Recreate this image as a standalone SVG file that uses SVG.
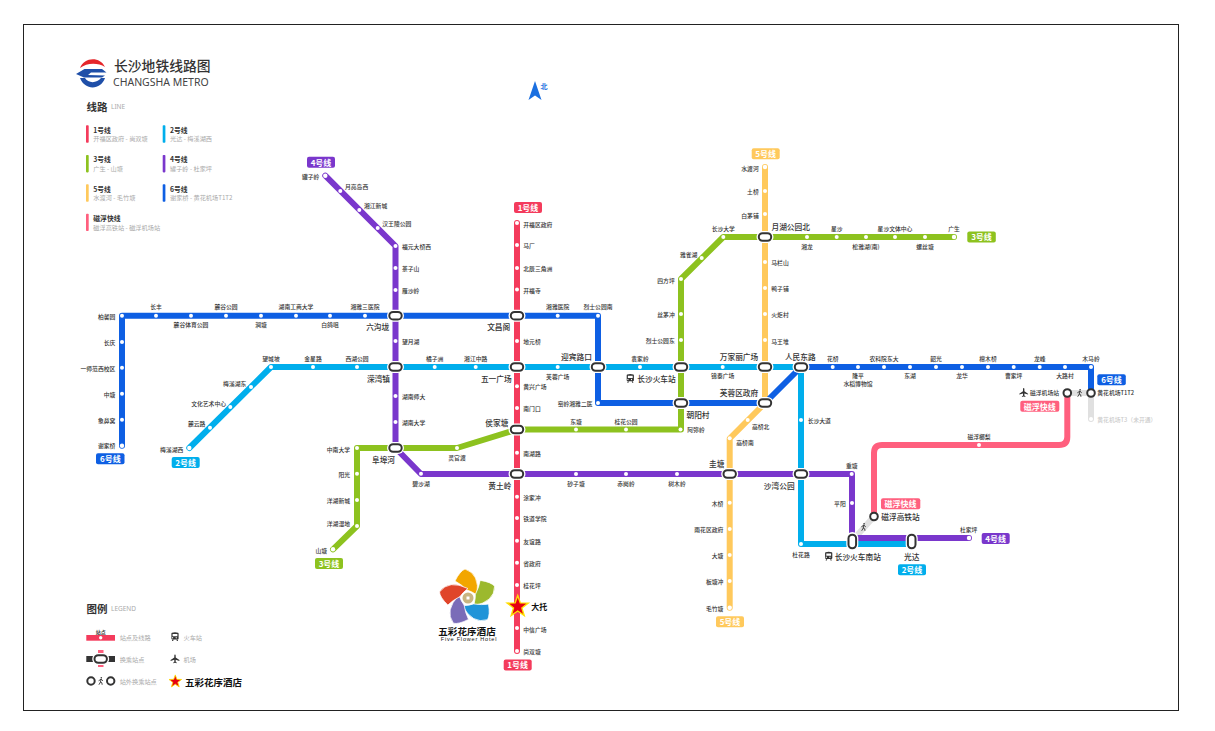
<svg xmlns="http://www.w3.org/2000/svg" width="1215" height="731" viewBox="0 0 1215 731">
<style>
text{font-family:"Noto Sans CJK SC","Noto Sans",sans-serif;dominant-baseline:central}
.s{font-size:5.8px;font-weight:500;fill:#333}
.m{font-size:7.7px;font-weight:500;fill:#333}
.e{text-anchor:end}.c{text-anchor:middle}
.b{font-size:8px;font-weight:700;fill:#fff;text-anchor:middle}
.lt{font-size:6.8px;font-weight:700;fill:#333}
.ls{font-size:6.2px;fill:#aaa}
.d{fill:#fff}
.l{fill:none;stroke-width:6;stroke-linejoin:round;stroke-linecap:round}
.r1{stroke:#f43b5c}.r2{stroke:#00aeec}.r3{stroke:#8dc21f}.r4{stroke:#7a37cc}.r5{stroke:#ffc95c}.r6{stroke:#0e5fe3}.rm{stroke:#ff5f7e}.rg{stroke:#e0e0e0}
.f1{fill:#f43b5c}.f2{fill:#00aeec}.f3{fill:#8dc21f}.f4{fill:#7a37cc}.f5{fill:#ffc95c}.f6{fill:#0e5fe3}.fm{fill:#ff5f7e}
.ring{fill:#fff;stroke:#333;stroke-width:2}
</style>
<defs>
<g id="cap"><rect x="-8.5" y="-6" width="17" height="12" rx="6" fill="#fff"/><rect x="-6.2" y="-3.8" width="12.4" height="7.6" rx="3.8" fill="#fff" stroke="#333" stroke-width="2"/></g>
<g id="capv"><rect x="-6" y="-9.5" width="12" height="19" rx="6" fill="#fff"/><rect x="-3.8" y="-6.8" width="7.6" height="13.6" rx="3.8" fill="#fff" stroke="#333" stroke-width="2"/></g>
<polygon id="star" points="0,-11 2.6,-3.6 10.5,-3.4 4.2,1.4 6.5,9 0,4.5 -6.5,9 -4.2,1.4 -10.5,-3.4 -2.6,-3.6" fill="#e60012" stroke="#ffe000" stroke-width="1.4"/>
<path id="train" d="M-3-3.8Q0-4.8 3-3.8Q3.6-3.6 3.6-2.8V2Q3.6 3 2.6 3H-2.6Q-3.6 3-3.6 2V-2.8Q-3.6-3.6-3-3.8ZM-2.4-2.6V-.3H2.4V-2.6ZM-1.8 1.2A.6.6 0 1 0-1.8 1.25ZM1.8 1.2A.6.6 0 1 0 1.8 1.25ZM-2.6 3.3H-1.4L-1.9 4.4H-3.1ZM1.4 3.3H2.6L3.1 4.4H1.9Z" fill="#333" fill-rule="evenodd"/>
<path id="plane" d="M0-4.6Q.7-4.6.7-3.2V-1.4L4.4 1V1.9L.7 .8V2.8L1.8 3.7V4.3L0 3.8L-1.8 4.3V3.7L-.7 2.8V.8L-4.4 1.9V1L-.7-1.4V-3.2Q-.7-4.6 0-4.6Z" fill="#333"/>
<g id="walk" fill="none" stroke="#333" stroke-width=".9" stroke-linecap="round"><circle cx=".6" cy="-3.2" r=".8" fill="#333" stroke="none"/><path d="M.4-1.8L-.2 1L-1.6 3.4M-.2 1L1.2 1.8L1.4 3.4M-1.8-.4L.4-1.8L2 -.4"/></g>
<path id="petal" d="M-13-17Q-8-27-3-29Q12-24 9-3Q3-7-1-8Q-7-14-13-17Z" stroke="#fff" stroke-width=".7"/>
</defs>
<rect width="1215" height="731" fill="#fff"/>
<rect x="23.5" y="24.5" width="1155" height="686" fill="#fff" stroke="#222" stroke-width="1"/>

<g id="brand">
<path d="M80 68C84 57 100 56 105 67C98 62.500 87 62.500 80 68Z" fill="#e5262a"/>
<path d="M76 74L84.500 69H102L106.500 72.500H91L88 75L105 75.500L102 77.500H84Z" fill="#1f4fa8"/>
<path d="M80 78H85C88 83.500 97 83.500 101 78H105C101 90 85 91 80 78Z" fill="#1f4fa8"/>
<text x="114" y="64.500" font-size="13.800" font-weight="500" fill="#333">长沙地铁线路图</text>
<text x="113" y="81.500" font-size="10.500" fill="#444" style="font-family:'Noto Sans',sans-serif">CHANGSHA METRO</text>
<polygon points="535,81 541.500,100 535,95.500 528.500,100" fill="#1a6fe0"/>
<text x="544" y="85.500" class="c" font-size="7" font-weight="700" fill="#1a6fe0">北</text>
</g>

<g id="legend-lines">
<text x="86.500" y="106" font-size="10.500" font-weight="700" fill="#333">线路</text>
<text x="111" y="106" font-size="6.500" fill="#aaa" style="font-family:'Noto Sans',sans-serif">LINE</text>
<rect x="86" y="125.300" width="2.700" height="17.400" rx=".8" class="f1"/><text x="93.300" y="129.500" class="lt">1号线</text><text x="93.300" y="138.500" class="ls">开福区政府 - 尚双塘</text>
<rect x="162.700" y="125.300" width="2.700" height="17.400" rx=".8" class="f2"/><text x="170" y="129.500" class="lt">2号线</text><text x="170" y="138.500" class="ls">光达 - 梅溪湖西</text>
<rect x="86" y="155" width="2.700" height="17.400" rx=".8" class="f3"/><text x="93.300" y="159" class="lt">3号线</text><text x="93.300" y="168" class="ls">广生 - 山塘</text>
<rect x="162.700" y="155" width="2.700" height="17.400" rx=".8" class="f4"/><text x="170" y="159" class="lt">4号线</text><text x="170" y="168" class="ls">罐子岭 - 杜家坪</text>
<rect x="86" y="184.300" width="2.700" height="17.400" rx=".8" class="f5"/><text x="93.300" y="188.500" class="lt">5号线</text><text x="93.300" y="197.500" class="ls">水渡河 - 毛竹塘</text>
<rect x="162.700" y="184.300" width="2.700" height="17.400" rx=".8" class="f6"/><text x="170" y="188.500" class="lt">6号线</text><text x="170" y="197.500" class="ls">谢家桥 - 黄花机场T1T2</text>
<rect x="86" y="213.700" width="2.700" height="17.400" rx=".8" class="fm"/><text x="93.300" y="218" class="lt">磁浮快线</text><text x="93.300" y="227" class="ls">磁浮高铁站 - 磁浮机场站</text>
</g>

<g id="legend-symbols">
<text x="86.500" y="608" font-size="10.500" font-weight="700" fill="#333">图例</text>
<text x="111" y="608" font-size="6.500" fill="#aaa" style="font-family:'Noto Sans',sans-serif">LEGEND</text>
<text x="100.700" y="631" class="c" font-size="5" font-weight="700" fill="#333">站点</text>
<rect x="86.300" y="635" width="28.700" height="5.700" class="f1"/><circle cx="100.700" cy="637.800" r="1.700" class="d"/>
<text x="119.700" y="637" class="ls">站点及线路</text>
<use href="#train" x="175" y="636.500"/><text x="183.500" y="637" class="ls">火车站</text>
<rect x="98" y="650" width="5.500" height="17" class="fm"/><rect x="86.300" y="656" width="9" height="6" fill="#333"/><rect x="106.500" y="656" width="8.500" height="6" fill="#333"/>
<use href="#cap" x="100.700" y="659"/>
<text x="119.700" y="659" class="ls">换乘站点</text>
<use href="#plane" x="175" y="659"/><text x="183.500" y="659" class="ls">机场</text>
<circle cx="91" cy="681" r="3.700" class="ring"/><circle cx="110.700" cy="681" r="3.700" class="ring"/><use href="#walk" x="100.700" y="681"/>
<text x="119.700" y="681" class="ls">站外换乘站点</text>
<use href="#star" transform="translate(175.300 681.500) scale(.6)"/>
<text x="185" y="681.500" font-size="9.500" font-weight="700" fill="#111">五彩花序酒店</text>
</g>

<g id="hotel">
<g transform="translate(468 598)"><use href="#petal" fill="#f2a600"/><use href="#petal" fill="#9cb92d" transform="rotate(72)"/><use href="#petal" fill="#1f94d8" transform="rotate(144)"/><use href="#petal" fill="#7a6cb8" transform="rotate(216)"/><use href="#petal" fill="#e0452a" transform="rotate(288)"/><circle r="5.500" fill="#c9b580"/><rect x="-1.500" y="-1.500" width="3" height="3" fill="#fff"/></g>
<text x="467" y="631" class="c" font-size="9.600" font-weight="700" fill="#111">五彩花序酒店</text>
<text x="469" y="639" class="c" font-size="5.500" fill="#111" letter-spacing=".8" style="font-family:'Liberation Sans',sans-serif">Five Flower Hotel</text>
</g>

<g id="connectors">
<path class="l rg" d="M874 516.500L852 541M1067.300 393H1091V419"/>
<path class="l r5" d="M765 167V403L729.700 438.500V607.700"/>
<path class="l r3" d="M333 549.300L357 526V448H457L517 429.500H681V279L723.300 237H954"/>
<path class="l r2" d="M189.300 448L271 367H801V544H852V544H911.700"/>
<path class="l r4" d="M325.300 175.700L395.500 246V448L421 474H852V538H969"/>
<path class="l r6" d="M122 445.700V315.700H598V403H765L801 367H1091V393"/>
<path class="l r1" d="M517 223V651"/>
<path class="l rm" d="M874 516V453Q874 445 882 445H1059Q1067.300 445 1067.300 437V393"/>
</g>

<g id="line-1">
<g id="s101"><circle class="d" cx="517" cy="223" r="2"/><text class="s" x="523.300" y="224">开福区政府</text></g>
<g id="s102"><circle class="d" cx="517" cy="245" r="2"/><text class="s" x="523.300" y="245.500">马厂</text></g>
<g id="s103"><circle class="d" cx="517" cy="268" r="2"/><text class="s" x="523.300" y="268">北辰三角洲</text></g>
<g id="s104"><circle class="d" cx="517" cy="289.500" r="2"/><text class="s" x="523.300" y="290">开福寺</text></g>
<g id="s105"><circle class="d" cx="517" cy="341" r="2"/><text class="s" x="523.300" y="341">地元桥</text></g>
<g id="s106"><circle class="d" cx="517" cy="386.300" r="2"/><text class="s" x="523.300" y="386.500">黄兴广场</text></g>
<g id="s107"><circle class="d" cx="517" cy="408" r="2"/><text class="s" x="523.300" y="408.500">南门口</text></g>
<g id="s108"><circle class="d" cx="517" cy="452.700" r="2"/><text class="s" x="523.300" y="453">南湖路</text></g>
<g id="s109"><circle class="d" cx="517" cy="496.700" r="2"/><text class="s" x="523.300" y="497">涂家冲</text></g>
<g id="s110"><circle class="d" cx="517" cy="518" r="2"/><text class="s" x="523.300" y="518.500">铁道学院</text></g>
<g id="s111"><circle class="d" cx="517" cy="540.700" r="2"/><text class="s" x="523.300" y="541">友谊路</text></g>
<g id="s112"><circle class="d" cx="517" cy="562.700" r="2"/><text class="s" x="523.300" y="563">省政府</text></g>
<g id="s113"><circle class="d" cx="517" cy="585" r="2"/><text class="s" x="523.300" y="585.500">桂花坪</text></g>
<g id="s114"><use href="#star" x="517.700" y="606.500"/><text x="531.300" y="606.500" font-size="8" font-weight="700" fill="#111">大托</text></g>
<g id="s115"><circle class="d" cx="517" cy="628" r="2"/><text class="s" x="523.300" y="629">中信广场</text></g>
<g id="s116"><circle class="d" cx="517" cy="651" r="2"/><text class="s" x="523.300" y="651.500">尚双塘</text></g>
</g>

<g id="line-2">
<g id="s201"><circle class="d" cx="189.300" cy="448" r="2.200"/><text class="s e" x="183.300" y="449">梅溪湖西</text></g>
<g id="s202"><circle class="d" cx="210" cy="427.700" r="2"/><text class="s e" x="205.300" y="423.700">麓云路</text></g>
<g id="s203"><circle class="d" cx="230.300" cy="407" r="2"/><text class="s e" x="226" y="403.300">文化艺术中心</text></g>
<g id="s204"><circle class="d" cx="251" cy="387" r="2"/><text class="s e" x="246.300" y="383">梅溪湖东</text></g>
<g id="s205"><circle class="d" cx="271" cy="367" r="2"/><text class="s c" x="271" y="358.300">望城坡</text></g>
<g id="s206"><circle class="d" cx="313" cy="367" r="2"/><text class="s c" x="313" y="358.300">金星路</text></g>
<g id="s207"><circle class="d" cx="357" cy="367" r="2"/><text class="s c" x="357" y="358.300">西湖公园</text></g>
<g id="s208"><circle class="d" cx="434.700" cy="367" r="2"/><text class="s c" x="434.700" y="358.300">橘子洲</text></g>
<g id="s209"><circle class="d" cx="475.700" cy="367" r="2"/><text class="s c" x="475.700" y="358.300">湘江中路</text></g>
<g id="s210"><circle class="d" cx="557.700" cy="367" r="2"/><text class="s c" x="557.700" y="376">芙蓉广场</text></g>
<g id="s211"><circle class="d" cx="640" cy="367" r="2"/><text class="s c" x="640" y="358.300">袁家岭</text></g>
<g id="s212"><circle class="d" cx="722.700" cy="367" r="2"/><text class="s c" x="722.700" y="375.700">锦泰广场</text></g>
<g id="s213"><circle class="d" cx="801" cy="420" r="2"/><text class="s" x="807.700" y="420.300">长沙大道</text></g>
<g id="s214"><circle class="d" cx="801" cy="544" r="2"/><text class="s c" x="801" y="554">杜花路</text></g>
</g>

<g id="line-3">
<g id="s301"><circle class="d" cx="333" cy="549.300" r="2.200"/><text class="s e" x="327" y="550">山塘</text></g>
<g id="s302"><circle class="d" cx="357" cy="526" r="2"/><text class="s e" x="350" y="523.700">洋湖湿地</text></g>
<g id="s303"><circle class="d" cx="357" cy="500" r="2"/><text class="s e" x="350" y="500.500">洋湖新城</text></g>
<g id="s304"><circle class="d" cx="357" cy="473.700" r="2"/><text class="s e" x="350" y="474">阳光</text></g>
<g id="s305"><circle class="d" cx="357" cy="448" r="2"/><text class="s e" x="350" y="449">中南大学</text></g>
<g id="s306"><circle class="d" cx="457" cy="448" r="2"/><text class="s c" x="457" y="457.300">灵官渡</text></g>
<g id="s307"><circle class="d" cx="576" cy="429.500" r="2"/><text class="s c" x="576" y="421">东塘</text></g>
<g id="s308"><circle class="d" cx="626" cy="429.500" r="2"/><text class="s c" x="626" y="421">桂花公园</text></g>
<g id="s309"><circle class="d" cx="680.500" cy="429.500" r="2"/><text class="s" x="687.300" y="429.300">阿弥岭</text></g>
<g id="s310"><circle class="d" cx="681" cy="340" r="2"/><text class="s e" x="674.700" y="340">烈士公园东</text></g>
<g id="s311"><circle class="d" cx="681" cy="314" r="2"/><text class="s e" x="674.700" y="314">丝茅冲</text></g>
<g id="s312"><circle class="d" cx="681" cy="279" r="2"/><text class="s e" x="674.700" y="280">四方坪</text></g>
<g id="s313"><circle class="d" cx="701.700" cy="258" r="2"/><text class="s e" x="697.300" y="254">雅雀湖</text></g>
<g id="s314"><circle class="d" cx="723.300" cy="237" r="2"/><text class="s c" x="723.300" y="228.700">长沙大学</text></g>
<g id="s315"><circle class="d" cx="807" cy="237" r="2"/><text class="s c" x="807" y="246.700">湘龙</text></g>
<g id="s316"><circle class="d" cx="836.700" cy="237" r="2"/><text class="s c" x="836.700" y="228.700">星沙</text></g>
<g id="s317"><circle class="d" cx="866" cy="237" r="2"/><text class="s c" x="866" y="246.700">松雅湖(南)</text></g>
<g id="s318"><circle class="d" cx="895" cy="237" r="2"/><text class="s c" x="895" y="228.700">星沙文体中心</text></g>
<g id="s319"><circle class="d" cx="925" cy="237" r="2"/><text class="s c" x="925" y="246.700">螺丝塘</text></g>
<g id="s320"><circle class="d" cx="954" cy="237" r="2.200"/><text class="s c" x="954" y="228.700">广生</text></g>
</g>

<g id="line-4">
<g id="s401"><circle class="d" cx="325.300" cy="175.700" r="2.200"/><text class="s e" x="319.300" y="176">罐子岭</text></g>
<g id="s402"><circle class="d" cx="340.300" cy="191" r="2"/><text class="s" x="345" y="186">月亮岛西</text></g>
<g id="s403"><circle class="d" cx="359.300" cy="210" r="2"/><text class="s" x="364" y="205">湘江新城</text></g>
<g id="s404"><circle class="d" cx="377.700" cy="228" r="2"/><text class="s" x="382.300" y="223">汉王陵公园</text></g>
<g id="s405"><circle class="d" cx="395.500" cy="246" r="2"/><text class="s" x="402" y="246">福元大桥西</text></g>
<g id="s406"><circle class="d" cx="395.500" cy="268" r="2"/><text class="s" x="402" y="268">茶子山</text></g>
<g id="s407"><circle class="d" cx="395.500" cy="290" r="2"/><text class="s" x="402" y="290">雁沙岭</text></g>
<g id="s408"><circle class="d" cx="395.500" cy="341" r="2"/><text class="s" x="402" y="341">望月湖</text></g>
<g id="s409"><circle class="d" cx="395.500" cy="396" r="2"/><text class="s" x="402" y="396.300">湖南师大</text></g>
<g id="s410"><circle class="d" cx="395.500" cy="422" r="2"/><text class="s" x="402" y="422">湖南大学</text></g>
<g id="s411"><circle class="d" cx="421" cy="473.700" r="2"/><text class="s c" x="421" y="483.300">碧沙湖</text></g>
<g id="s412"><circle class="d" cx="576" cy="474" r="2"/><text class="s c" x="576" y="483.300">砂子塘</text></g>
<g id="s413"><circle class="d" cx="626" cy="474" r="2"/><text class="s c" x="626" y="483.300">赤岗岭</text></g>
<g id="s414"><circle class="d" cx="677" cy="474" r="2"/><text class="s c" x="677" y="483.300">树木岭</text></g>
<g id="s415"><circle class="d" cx="851.700" cy="474" r="2"/><text class="s c" x="851.700" y="465">重塘</text></g>
<g id="s416"><circle class="d" cx="852" cy="503" r="2"/><text class="s e" x="845.700" y="503">平阳</text></g>
<g id="s417"><circle class="d" cx="969" cy="538" r="2.200"/><text class="s c" x="968.700" y="529.700">杜家坪</text></g>
</g>

<g id="line-5">
<g id="s501"><circle class="d" cx="765" cy="167" r="2.200"/><text class="s e" x="758.700" y="168">水渡河</text></g>
<g id="s502"><circle class="d" cx="765" cy="191" r="2"/><text class="s e" x="758.700" y="191">土桥</text></g>
<g id="s503"><circle class="d" cx="765" cy="214" r="2"/><text class="s e" x="758.700" y="215">白茅铺</text></g>
<g id="s504"><circle class="d" cx="765" cy="262" r="2"/><text class="s" x="771.300" y="262.700">马栏山</text></g>
<g id="s505"><circle class="d" cx="765" cy="288" r="2"/><text class="s" x="771.300" y="288.700">鸭子铺</text></g>
<g id="s506"><circle class="d" cx="765" cy="314" r="2"/><text class="s" x="771.300" y="314">火炬村</text></g>
<g id="s507"><circle class="d" cx="765" cy="340" r="2"/><text class="s" x="771.300" y="341">马王堆</text></g>
<g id="s508"><circle class="d" cx="747.700" cy="420" r="2"/><text class="s" x="752" y="426">高桥北</text></g>
<g id="s509"><circle class="d" cx="729.700" cy="438.300" r="2"/><text class="s" x="736.300" y="442">高桥南</text></g>
<g id="s510"><circle class="d" cx="729.700" cy="502.700" r="2"/><text class="s e" x="723.300" y="503">木桥</text></g>
<g id="s511"><circle class="d" cx="729.700" cy="529" r="2"/><text class="s e" x="723.300" y="529.300">雨花区政府</text></g>
<g id="s512"><circle class="d" cx="729.700" cy="555" r="2"/><text class="s e" x="723.300" y="555.700">大塘</text></g>
<g id="s513"><circle class="d" cx="729.700" cy="581" r="2"/><text class="s e" x="723.300" y="581.700">板塘冲</text></g>
<g id="s514"><circle class="d" cx="729.700" cy="607.700" r="2.200"/><text class="s e" x="723.300" y="608">毛竹塘</text></g>
</g>

<g id="line-6">
<g id="s601"><circle class="d" cx="122" cy="445.700" r="2.200"/><text class="s e" x="115.300" y="445.700">谢家桥</text></g>
<g id="s602"><circle class="d" cx="122" cy="419.700" r="2"/><text class="s e" x="115.300" y="420">象鼻窝</text></g>
<g id="s603"><circle class="d" cx="122" cy="393.700" r="2"/><text class="s e" x="115.300" y="394">中塘</text></g>
<g id="s604"><circle class="d" cx="122" cy="367.700" r="2"/><text class="s e" x="115.300" y="368">一师范西校区</text></g>
<g id="s605"><circle class="d" cx="122" cy="342" r="2"/><text class="s e" x="115.300" y="342">长庆</text></g>
<g id="s606"><circle class="d" cx="122" cy="315.700" r="2"/><text class="s e" x="115.300" y="316">柏馨园</text></g>
<g id="s607"><circle class="d" cx="156" cy="315.700" r="2"/><text class="s c" x="156" y="306.700">长丰</text></g>
<g id="s608"><circle class="d" cx="191" cy="315.700" r="2"/><text class="s c" x="191" y="324.300">麓谷体育公园</text></g>
<g id="s609"><circle class="d" cx="226" cy="315.700" r="2"/><text class="s c" x="226" y="306.700">麓谷公园</text></g>
<g id="s610"><circle class="d" cx="261" cy="315.700" r="2"/><text class="s c" x="261" y="324.300">涧塘</text></g>
<g id="s611"><circle class="d" cx="296" cy="315.700" r="2"/><text class="s c" x="296" y="306.700">湖南工商大学</text></g>
<g id="s612"><circle class="d" cx="330" cy="315.700" r="2"/><text class="s c" x="330" y="324.300">白鸽咀</text></g>
<g id="s613"><circle class="d" cx="365" cy="315.700" r="2"/><text class="s c" x="365" y="306.700">湘雅三医院</text></g>
<g id="s614"><circle class="d" cx="557.700" cy="315.700" r="2"/><text class="s c" x="557.700" y="306.700">湘雅医院</text></g>
<g id="s615"><circle class="d" cx="598" cy="315.700" r="2"/><text class="s c" x="598" y="306.700">烈士公园南</text></g>
<g id="s616"><circle class="d" cx="598" cy="403" r="2"/><text class="s e" x="592.500" y="403">窑岭湘雅二医</text></g>
<g id="s617"><circle class="d" cx="832.700" cy="367" r="2"/><text class="s c" x="832.700" y="358">花桥</text></g>
<g id="s618"><circle class="d" cx="858" cy="367" r="2"/><text class="s c" x="858" y="375.700">隆平</text><text class="s c" x="858" y="383.300">水稻博物馆</text></g>
<g id="s619"><circle class="d" cx="884" cy="367" r="2"/><text class="s c" x="884" y="358">农科院东大</text></g>
<g id="s620"><circle class="d" cx="910" cy="367" r="2"/><text class="s c" x="910" y="375.700">东湖</text></g>
<g id="s621"><circle class="d" cx="936" cy="367" r="2"/><text class="s c" x="936" y="358">韶光</text></g>
<g id="s622"><circle class="d" cx="962" cy="367" r="2"/><text class="s c" x="962" y="375.700">龙华</text></g>
<g id="s623"><circle class="d" cx="988" cy="367" r="2"/><text class="s c" x="988" y="358">檀木桥</text></g>
<g id="s624"><circle class="d" cx="1013.700" cy="367" r="2"/><text class="s c" x="1013.700" y="375.700">曹家坪</text></g>
<g id="s625"><circle class="d" cx="1039.700" cy="367" r="2"/><text class="s c" x="1039.700" y="358">龙峰</text></g>
<g id="s626"><circle class="d" cx="1065" cy="367" r="2"/><text class="s c" x="1065" y="375.700">大路村</text></g>
<g id="s627"><circle class="d" cx="1091" cy="367" r="2"/><text class="s c" x="1091" y="358">木马岭</text></g>
<g id="s628"><circle class="d" cx="1091" cy="419" r="2"/><text class="s" x="1097.300" y="419" style="fill:#ccc">黄花机场T3（未开通）</text></g>
</g>

<g id="line-m">
<g id="sm1"><circle class="d" cx="979" cy="445" r="2"/><text class="s c" x="979" y="436">磁浮榔梨</text></g>
<g id="sm2"><circle class="ring" cx="874" cy="516.500" r="3.800"/><text class="m" x="881.300" y="516.700">磁浮高铁站</text></g>
<g id="sm3"><circle class="ring" cx="1067.300" cy="393" r="3.800"/><use href="#plane" x="1023.700" y="392.700"/><text class="s" x="1030" y="392.700">磁浮机场站</text></g>
<g id="sm4"><circle class="ring" cx="1091" cy="393" r="3.800"/><text class="s" x="1097.300" y="392.700">黄花机场T1T2</text></g>
<use href="#walk" x="1079.500" y="393"/><use href="#walk" x="863.500" y="527"/>
</g>

<g id="interchanges">
<g id="x01"><use href="#cap" x="395.500" y="315.700"/><text class="m c" x="377.700" y="326.700">六沟垅</text></g>
<g id="x02"><use href="#cap" x="517" y="315.700"/><text class="m c" x="498.700" y="326.700">文昌阁</text></g>
<g id="x03"><use href="#cap" x="395.500" y="367"/><text class="m c" x="378.500" y="378">溁湾镇</text></g>
<g id="x04"><use href="#cap" x="517" y="367"/><text class="m c" x="496.300" y="378">五一广场</text></g>
<g id="x05"><use href="#cap" x="598" y="367"/><text class="m c" x="576.500" y="356.300">迎宾路口</text></g>
<g id="x06"><use href="#cap" x="681" y="367"/><use href="#train" x="630.300" y="378.300"/><text class="m" x="637.300" y="378.300">长沙火车站</text></g>
<g id="x07"><use href="#cap" x="765" y="367"/><text class="m c" x="739" y="356">万家丽广场</text></g>
<g id="x08"><use href="#cap" x="801" y="367"/><text class="m c" x="800.300" y="356">人民东路</text></g>
<g id="x09"><use href="#cap" x="681" y="403"/><text class="m c" x="698" y="414.300">朝阳村</text></g>
<g id="x10"><use href="#cap" x="765" y="403"/><text class="m c" x="739" y="392.300">芙蓉区政府</text></g>
<g id="x11"><use href="#cap" x="517" y="429.500"/><text class="m c" x="496.800" y="422.700">侯家塘</text></g>
<g id="x12"><use href="#cap" x="395.500" y="448"/><text class="m c" x="383.500" y="459.300">阜埠河</text></g>
<g id="x13"><use href="#cap" x="517" y="474"/><text class="m c" x="499.800" y="485.300">黄土岭</text></g>
<g id="x14"><use href="#cap" x="729.700" y="474"/><text class="m c" x="716.700" y="463">圭塘</text></g>
<g id="x15"><use href="#cap" x="801" y="474"/><text class="m c" x="779.200" y="485">沙湾公园</text></g>
<g id="x16"><use href="#cap" x="765" y="237"/><text class="m c" x="790.700" y="226.300">月湖公园北</text></g>
<g id="x17"><use href="#capv" x="852.300" y="541.500"/><use href="#train" x="828.700" y="556"/><text class="m" x="834.700" y="556">长沙火车南站</text></g>
<g id="x18"><use href="#capv" x="911.700" y="541.500"/><text class="m c" x="911.700" y="556">光达</text></g>
</g>

<g id="badges">
<g id="b41"><rect x="307" y="156.700" width="28" height="11" rx="2" class="f4"/><text class="b" x="321" y="162">4号线</text></g>
<g id="b11"><rect x="514" y="202" width="28" height="11" rx="2" class="f1"/><text class="b" x="528" y="207.400">1号线</text></g>
<g id="b12"><rect x="503.700" y="659.500" width="28" height="11" rx="2" class="f1"/><text class="b" x="517.700" y="664.900">1号线</text></g>
<g id="b61"><rect x="96" y="453.300" width="28.500" height="11" rx="2" class="f6"/><text class="b" x="110.300" y="458.700">6号线</text></g>
<g id="b21"><rect x="171.700" y="457" width="28" height="11" rx="2" class="f2"/><text class="b" x="185.700" y="462.400">2号线</text></g>
<g id="b31"><rect x="315" y="558" width="28" height="11" rx="2" class="f3"/><text class="b" x="329" y="563.400">3号线</text></g>
<g id="b51"><rect x="751.700" y="148.200" width="28" height="11" rx="2" class="f5"/><text class="b" x="765.700" y="153.600">5号线</text></g>
<g id="b52"><rect x="716" y="616.200" width="28" height="11" rx="2" class="f5"/><text class="b" x="730" y="621.600">5号线</text></g>
<g id="b32"><rect x="967.300" y="231.500" width="28.500" height="11" rx="2" class="f3"/><text class="b" x="981.500" y="236.900">3号线</text></g>
<g id="b62"><rect x="1097.300" y="374.300" width="28.500" height="11" rx="2" class="f6"/><text class="b" x="1111.500" y="379.700">6号线</text></g>
<g id="bm1"><rect x="1020.300" y="400.700" width="39" height="11" rx="2" class="fm"/><text class="b" x="1039.800" y="406.100">磁浮快线</text></g>
<g id="bm2"><rect x="881" y="498.200" width="39.300" height="11" rx="2" class="fm"/><text class="b" x="900.600" y="503.600">磁浮快线</text></g>
<g id="b22"><rect x="898" y="564.300" width="28" height="11" rx="2" class="f2"/><text class="b" x="912" y="569.700">2号线</text></g>
<g id="b42"><rect x="981.700" y="533" width="28" height="11" rx="2" class="f4"/><text class="b" x="995.700" y="538.400">4号线</text></g>
</g>
</svg>
